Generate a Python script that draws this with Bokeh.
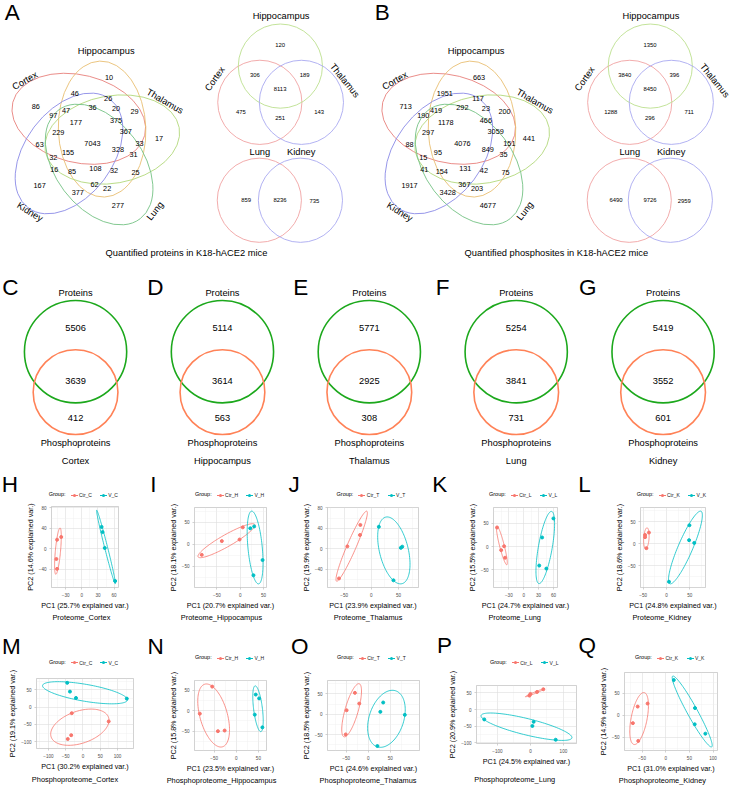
import numpy as np
from bokeh.plotting import figure
from bokeh.layouts import column, row
from bokeh.models import Range1d, FixedTicker, Div
from bokeh.embed import file_html
from bokeh.resources import INLINE
from bokeh.core.properties import value

FONT = "Liberation Sans"

# ---------------- data: Venn diagrams ----------------
five_sets = ["Cortex", "Hippocampus", "Thalamus", "Lung", "Kidney"]
protein_regions = [10, 46, 86, 26, 36, 20, 29, 97, 47, 177, 375, 367, 17, 229, 63, 7043,
                   328, 33, 31, 32, 155, 16, 85, 108, 32, 25, 167, 377, 62, 22, 277]
phosphosite_regions = [663, 1951, 713, 117, 292, 23, 200, 190, 419, 1178, 466, 3059, 441, 297, 88, 4076,
                       849, 151, 35, 15, 95, 41, 154, 131, 42, 75, 1917, 3428, 367, 203, 4677]
brain_sets = ["Cortex", "Hippocampus", "Thalamus"]
# order: Hip only, Cx&Hip, Hip&Th, all, Cx only, Cx&Th, Th only
protein_brain = [120, 306, 189, 8113, 475, 251, 143]
phosphosite_brain = [1350, 3840, 396, 8450, 1288, 296, 711]
peripheral_sets = ["Lung", "Kidney"]
protein_peripheral = [859, 8236, 735]
phosphosite_peripheral = [6490, 9726, 2959]
captions_top = ["Quantified proteins in K18-hACE2 mice", "Quantified phosphosites in K18-hACE2 mice"]

tissues = ["Cortex", "Hippocampus", "Thalamus", "Lung", "Kidney"]
proteins_only = [5506, 5114, 5771, 5254, 5419]
proteins_and_phospho = [3639, 3614, 2925, 3841, 3552]
phospho_only = [412, 563, 308, 731, 601]

# ---------------- data: PCA scores (PC1, PC2) ----------------
H_ctr = [(-38.3, 23.3), (-46, 18), (-47.3, -19.7), (-46, -39)]
H_vir = [(36.7, 43), (38.5, 32.8), (42.6, 1.8), (61.9, -62.8)]
I_ctr = [(-82.7, -24.4), (-39.6, 6.9), (-1.5, 10.4), (5.4, 38.1)]
I_vir = [(21.5, 36), (29.8, 40.2), (47.9, -36.2), (28.3, -70.8)]
J_ctr = [(-59.7, -58), (-44.3, 4.7), (-21, 26.9), (-20.3, 46.6)]
J_vir = [(13.8, 43), (54.3, 1.8), (56.9, 4.1), (40.7, -61.7)]
K_ctr = [(-53.8, 40.9), (-39.6, 0.6), (-45.4, -7.8), (-37.6, -24)]
K_vir = [(59.8, 60.4), (37, 19.5), (31.2, -40.9), (45.6, -47.4)]
L_ctr = [(-45.8, 19.6), (-45.8, 14.6), (-37.5, 25), (-43, -10.4)]
L_vir = [(49.2, 41.7), (48.5, 7.7), (59.6, 1.5), (5.4, -86.7)]
M_ctr = [(-32.4, -17.6), (74.6, -41.3), (-44, -92), (-34, -81)]
M_vir = [(-45.5, 70), (-37.6, 44.7), (-20.2, 26.3), (127, 24.5)]
N_ctr = [(-54.5, 59.3), (-82.5, -7), (-41.6, -50), (-26.4, -48.4)]
N_vir = [(44, 39.8), (51.6, 30.4), (41.8, -9.4), (59, -40.6)]
O_ctr = [(-51, -49.6), (-49, 9.9), (-30.2, 52.8), (-20.4, 26.4)]
O_vir = [(33.9, 29), (27.5, 6), (82.9, -1.4), (20.8, -78.2)]
P_ctr = [(-3, 42), (0, 47), (20, 53), (39, 61)]
P_vir = [(-140, -29.4), (9.7, -36.5), (5.9, -49), (76.5, -90.3)]
Q_ctr = [(-59.2, 19.6), (-38.2, 26.5), (-69.4, -17.8), (-58, -58)]
Q_vir = [(17, 79.6), (61.8, 16.3), (61.2, -20.4), (83.7, -41.6)]

pc_var = {"H": (25.7, 14.6), "I": (20.7, 18.1), "J": (23.9, 19.9), "K": (24.7, 15.5), "L": (24.8, 18.6),
          "M": (30.2, 19.1), "N": (23.5, 15.8), "O": (24.6, 18.5), "P": (24.5, 20.9), "Q": (31.0, 14.9)}
group_suffix = ["C", "H", "T", "L", "K"]
x_ticks = {"H": [-30, 0, 30, 60], "I": [-50, 0, 50], "J": [-50, 0, 50], "K": [-30, 0, 30, 60],
           "L": [-50, 0, 50], "M": [-100, -50, 0, 50, 100], "N": [-50, 0, 50], "O": [-50, 0, 50],
           "P": [-100, 0, 100], "Q": [-50, 0, 50, 100]}
y_ticks = {"H": [-40, 0, 40, 80], "I": [-50, 0, 50], "J": [-40, 0, 40, 80], "K": [-50, 0, 50],
           "L": [-100, -50, 0, 50], "M": [-100, -50, 0, 50], "N": [-100, -50, 0, 50], "O": [-50, 0, 50],
           "P": [-100, -50, 0, 50], "Q": [-50, 0, 50]}

# ---------------- layout (reference pixel positions) ----------------
five_count_pos = [(111, 79), (76, 95), (36, 108), (110, 100), (94, 109), (118, 110), (137, 113), (54, 117),
                  (67, 112), (77, 125), (118, 123), (128, 134), (162, 141), (59, 135), (40, 147), (94, 146),
                  (120, 152), (142, 146), (136, 157), (54, 160), (69, 155), (55, 173), (73, 175), (97, 172),
                  (116, 174), (138, 176), (40, 189), (79, 196), (96, 188), (109, 192), (120, 209)]
five_label_pos = [(25, 82), (108, 52), (168, 103), (158, 215), (30, 216)]
five_label_ang = [30, 0, -30, 52, -32]
five_centres = [(80, 120.8), (103.8, 131.3), (114.2, 142), (100.8, 167.5), (70, 156.2)]
five_angles = [166, 92, 10, 127, 53]
five_colors = ["#E8807C", "#E9BE72", "#B2D87A", "#74C283", "#8A8AE6"]
tri_centres = [(265, 104), (286, 67), (307.5, 104)]
tri_colors = ["#F0A3A3", "#BCE08F", "#A9A9F0"]
tri_count_pos = [(285.7, 45.7), (260, 76), (310.7, 76), (285.7, 90.7), (245.7, 114.3), (285.7, 120), (325.7, 114.3)]
tri_label_pos = [(219, 80), (286.7, 16), (351.7, 81.7)]
tri_label_ang = [55, 0, -51]
duo_centres = [(264.5, 204), (306.5, 204)]
duo_colors = ["#F0A3A3", "#A9A9F0"]
duo_count_pos = [(251, 204), (285.7, 203.3), (320.7, 204.3)]
duo_label_pos = [(265, 155), (307.3, 155)]
B_SHIFT = 378


def blank_fig(w, h, xr, yr):
    f = figure(width=w, height=h, x_range=Range1d(0, xr), y_range=Range1d(0, yr),
               output_backend="svg", toolbar_location=None, min_border=0,
               x_axis_location=None, y_axis_location=None)
    f.grid.visible = False
    f.outline_line_color = None
    return f


TOP_H = 480
top = blank_fig(731, 470, 747, TOP_H)


def ttxt(xs, ys, texts, size, angles=0):
    top.text(x=list(xs), y=[TOP_H - y for y in ys], text=[str(t) for t in texts],
             angle=angles, angle_units="deg", text_font=value(FONT), text_font_size=size,
             text_align="center", text_baseline="middle", text_color="#000000")


for shift, counts, tri_counts, duo_counts, cap in [
        (0, protein_regions, protein_brain, protein_peripheral, captions_top[0]),
        (B_SHIFT, phosphosite_regions, phosphosite_brain, phosphosite_peripheral, captions_top[1])]:
    top.ellipse(x=[c[0] + shift for c in five_centres], y=[TOP_H - c[1] for c in five_centres],
                width=139, height=89.4, angle=[np.radians(a) for a in five_angles],
                fill_color=None, line_color=five_colors, line_width=0.9)
    ttxt([p[0] + shift for p in five_count_pos], [p[1] for p in five_count_pos], counts, "7.3px")
    ttxt([p[0] + shift for p in five_label_pos], [p[1] for p in five_label_pos], five_sets, "9.3px",
         angles=five_label_ang)
    top.ellipse(x=[c[0] + shift for c in tri_centres], y=[TOP_H - c[1] for c in tri_centres],
                width=86, height=86, fill_color=None, line_color=tri_colors, line_width=0.9)
    ttxt([p[0] + shift for p in tri_count_pos], [p[1] for p in tri_count_pos], tri_counts, "5.9px")
    ttxt([p[0] + shift for p in tri_label_pos], [p[1] for p in tri_label_pos], brain_sets, "9.3px",
         angles=tri_label_ang)
    top.ellipse(x=[c[0] + shift for c in duo_centres], y=[TOP_H - c[1] for c in duo_centres],
                width=86, height=86, fill_color=None, line_color=duo_colors, line_width=0.9)
    ttxt([p[0] + shift for p in duo_count_pos], [p[1] for p in duo_count_pos], duo_counts, "5.9px")
    ttxt([p[0] + shift for p in duo_label_pos], [p[1] for p in duo_label_pos], peripheral_sets, "9.3px")
    ttxt([190 + shift], [258], [cap], "9.3px")

ttxt([12, 390], [12.5, 12.5], ["A", "B"], "22.5px")

pp_x = [76.7 + 150.1 * i for i in range(5)]
top.ellipse(x=pp_x, y=[TOP_H - 358.7] * 5, width=104.5, height=104.5, fill_color=None,
            line_color="#1CA81C", line_width=1.6)
top.ellipse(x=pp_x, y=[TOP_H - 400] * 5, width=86.6, height=86.6, fill_color=None,
            line_color="#FF8257", line_width=1.6)
ttxt(pp_x, [334.3] * 5, proteins_only, "9.3px")
ttxt(pp_x, [388.3] * 5, proteins_and_phospho, "9.3px")
ttxt(pp_x, [426] * 5, phospho_only, "9.3px")
ttxt(pp_x, [299] * 5, ["Proteins"] * 5, "9.3px")
ttxt(pp_x, [451.7] * 5, ["Phosphoproteins"] * 5, "9.3px")
ttxt(pp_x, [470] * 5, tissues, "9.3px")
ttxt([10, 158.3, 306.7, 451.7, 600], [293.3] * 5, ["C", "D", "E", "F", "G"], "22.5px")

# ---------------- PCA panels ----------------
COLW = 747 / 5
COL_WIDTHS = [146, 146, 146, 146, 147]
CTR_COL = "#F8766D"
VIR_COL = "#00BFC4"
YLABEL_LEN = 93.0   # approx. length (reference px) of the rotated PC2 label


def conf_ellipse(pts, prob=0.68, n=120):
    a = np.array(pts, dtype=float)
    mu = a.mean(axis=0)
    S = np.cov(a.T)
    r = np.sqrt(-2 * np.log(1 - prob))
    t = np.linspace(0, 2 * np.pi, n)
    circ = np.column_stack([np.cos(t), np.sin(t)])
    L = np.linalg.cholesky(S)
    return circ @ L.T * r + mu


def span(x, y, text, size, anchor="center", color="#000000"):
    tx = "-50%" if anchor == "center" else "0"
    return (f'<span style="position:absolute;left:{x:.1f}px;top:{y:.1f}px;transform:translate({tx},-50%);'
            f'font-family:\'{FONT}\',sans-serif;font-size:{size};line-height:1;white-space:nowrap;'
            f'color:{color};">{text}</span>')


def key(x, y, col):
    return (f'<span style="position:absolute;left:{x - 3.5:.1f}px;top:{y - 0.4:.1f}px;width:7px;height:0.8px;'
            f'background:{col};"></span>'
            f'<span style="position:absolute;left:{x - 1.5:.1f}px;top:{y - 1.5:.1f}px;width:3px;height:3px;'
            f'border-radius:50%;background:{col};"></span>')


def box_div(w, h, inner):
    return Div(text=f'<div style="position:relative;width:{w}px;height:{h}px;overflow:visible;">{inner}</div>',
               width=w, height=h, margin=0, disable_math=True)


def pca_panel(k, row_y0, row_h, col_h, letter, letter_xy, box, legend_y, cap_xy, ctr, vir, caption):
    fig_w = COL_WIDTHS[k]
    sx = fig_w / COLW
    sy = col_h / row_h
    x0 = k * COLW
    x1, x2, y1, y2 = box
    cx, cy = cap_xy
    # room needed above the frame for the rotated y label
    need = max(7.5, (YLABEL_LEN - (y2 - y1)) / 2 + 2)
    hdr_bottom = min(legend_y + 4.5, y1 - need)
    legend_y = min(legend_y, hdr_bottom - 3.5)
    hh = round((hdr_bottom - row_y0) * sy)
    foot_top = cy - 6.5
    ph = round((foot_top - hdr_bottom) * sy)
    fh_ = col_h - hh - ph
    # header: panel letter + legend
    fc = ((x1 + x2) / 2 - x0) * sx
    gy = (legend_y - row_y0) * sy
    lx, ly = letter_xy
    suf = group_suffix[k]
    inner = span((lx - x0) * sx, (ly - row_y0) * sy, letter, "22.5px")
    inner += span(fc - 27.8 * sx, gy, "Group:", "5.5px")
    inner += key(fc - 10.5 * sx, gy, CTR_COL) + key(fc + 19.5 * sx, gy, VIR_COL)
    inner += span(fc - 5.5 * sx, gy, f"Ctr_{suf}", "5px", anchor="left", color="#1A1A1A")
    inner += span(fc + 24.5 * sx, gy, f"V_{suf}", "5px", anchor="left", color="#1A1A1A")
    hdr = box_div(fig_w, hh, inner)
    ftr = box_div(fig_w, fh_, span((cx - x0) * sx, (cy - foot_top) * sy, caption, "7.4px"))
    # plot
    ec = conf_ellipse(ctr)
    ev = conf_ellipse(vir)
    allx = np.concatenate([ec[:, 0], ev[:, 0], [p[0] for p in ctr + vir]])
    ally = np.concatenate([ec[:, 1], ev[:, 1], [p[1] for p in ctr + vir]])
    xmn, xmx = allx.min(), allx.max()
    ymn, ymx = ally.min(), ally.max()
    xs_, ys_ = (xmx - xmn) * 1.1, (ymx - ymn) * 1.1
    Wd, Hd = x2 - x1, y2 - y1
    kk = min(Wd / xs_, Hd / ys_)
    xc, yc = (xmn + xmx) / 2, (ymn + ymx) / 2
    hx, hy = Wd / kk / 2, Hd / kk / 2
    left = round((x1 - x0) * sx)
    fw = round(Wd * sx)
    right = fig_w - left - fw
    topb = round((y1 - hdr_bottom) * sy)
    fh = round(Hd * sy)
    bottom = ph - topb - fh
    p = figure(width=fig_w, height=ph, x_range=Range1d(xc - hx, xc + hx),
               y_range=Range1d(yc - hy, yc + hy), min_border_left=left, min_border_right=right,
               min_border_top=topb, min_border_bottom=bottom, output_backend="svg",
               toolbar_location=None)
    p.background_fill_color = "#FFFFFF"
    p.outline_line_color = "#B3B3B3"
    p.outline_line_width = 0.6
    xt, yt = x_ticks[letter], y_ticks[letter]
    xm = [(a + b) / 2 for a, b in zip(xt[:-1], xt[1:])]
    ym = [(a + b) / 2 for a, b in zip(yt[:-1], yt[1:])]
    xm = [xt[0] - (xt[1] - xt[0]) / 2] + xm + [xt[-1] + (xt[1] - xt[0]) / 2]
    ym = [yt[0] - (yt[1] - yt[0]) / 2] + ym + [yt[-1] + (yt[1] - yt[0]) / 2]
    p.xaxis.ticker = FixedTicker(ticks=xt, minor_ticks=xm)
    p.yaxis.ticker = FixedTicker(ticks=yt, minor_ticks=ym)
    for g in (p.xgrid, p.ygrid):
        g.grid_line_color = "#DEDEDE"
        g.grid_line_width = 0.6
        g.minor_grid_line_color = "#EDEDED"
        g.minor_grid_line_width = 0.4
    pc1, pc2 = pc_var[letter]
    p.xaxis.axis_label = f"PC1 ({pc1}% explained var.)"
    p.yaxis.axis_label = f"PC2 ({pc2}% explained var.)"
    for ax in (p.xaxis, p.yaxis):
        ax.axis_label_text_font = FONT
        ax.axis_label_text_font_size = "7.2px"
        ax.axis_label_text_font_style = "normal"
        ax.axis_label_text_color = "#000000"
        ax.axis_label_standoff = 1
        ax.major_label_text_font = FONT
        ax.major_label_text_font_size = "4.6px"
        ax.major_label_text_color = "#4D4D4D"
        ax.major_label_standoff = 1
        ax.axis_line_color = None
        ax.major_tick_line_color = "#B3B3B3"
        ax.major_tick_line_width = 0.6
        ax.major_tick_in = 0
        ax.major_tick_out = 2
        ax.minor_tick_line_color = None
    p.line(ec[:, 0], ec[:, 1], line_color=CTR_COL, line_width=0.8)
    p.line(ev[:, 0], ev[:, 1], line_color=VIR_COL, line_width=0.8)
    p.scatter([q[0] for q in ctr], [q[1] for q in ctr], size=3, color=CTR_COL)
    p.scatter([q[0] for q in vir], [q[1] for q in vir], size=3, color=VIR_COL)
    return column(hdr, p, ftr, spacing=0)


row1_defs = [
    ("H", (10, 495), (51.7, 120.7, 517.3, 605), 505.5, (83.3, 631.7), H_ctr, H_vir, "Proteome_Cortex"),
    ("I", (157, 495), (199, 272.7, 518.3, 605), 505.5, (226.7, 631.7), I_ctr, I_vir, "Proteome_Hippocampus"),
    ("J", (301, 495), (334.3, 427.3, 518.3, 605), 505.5, (376.7, 631.7), J_ctr, J_vir, "Proteome_Thalamus"),
    ("K", (450, 495), (504.3, 569.3, 518.3, 605), 505.5, (526.7, 631.7), K_ctr, K_vir, "Proteome_Lung"),
    ("L", (598, 495), (654.3, 720.7, 518.3, 605), 505.5, (676.7, 631.7), L_ctr, L_vir, "Proteome_Kidney"),
]
row2_defs = [
    ("M", (11.7, 660), (36.7, 136.3, 692.7, 764.3), 680, (76.7, 796.7), M_ctr, M_vir, "Phosphoproteome_Cortex"),
    ("N", (159.3, 660), (199, 272.7, 694, 771.7), 671.7, (226.7, 796.7), N_ctr, N_vir, "Phosphoproteome_Hippocampus"),
    ("O", (306.7, 660), (334.3, 428.3, 694, 771.7), 671.7, (376.7, 796.7), O_ctr, O_vir, "Phosphoproteome_Thalamus"),
    ("P", (455, 659.3), (486.7, 589, 699, 757.7), 685.7, (526.7, 796.7), P_ctr, P_vir, "Phosphoproteome_Lung"),
    ("Q", (601, 659.3), (638.3, 733.3, 685.7, 771), 671.7, (677.3, 796.7), Q_ctr, Q_vir, "Phosphoproteome_Kidney"),
]

r1 = [pca_panel(i, 480, 160, 157, *d) for i, d in enumerate(row1_defs)]
r2 = [pca_panel(i, 640, 164, 161, *d) for i, d in enumerate(row2_defs)]

layout = column(top, row(*r1, spacing=0), row(*r2, spacing=0), spacing=0)
open("out.html", "w").write(file_html(layout, INLINE))
